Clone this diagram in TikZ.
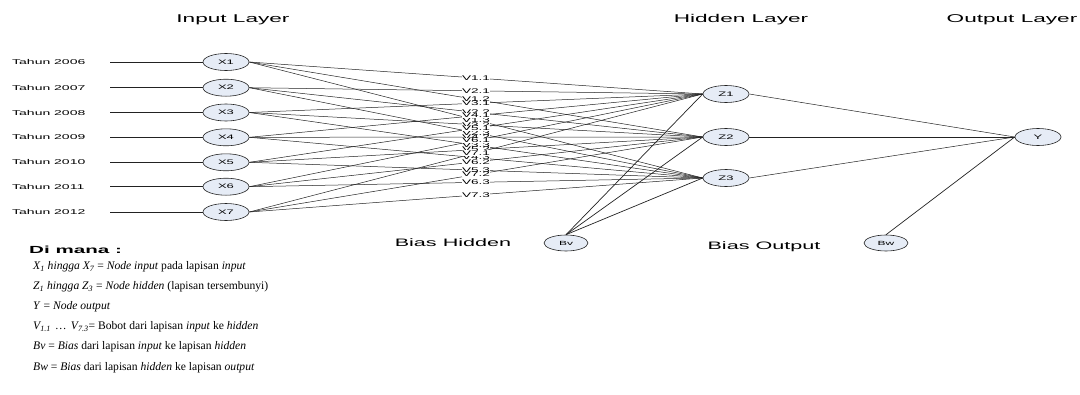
\documentclass[tikz,border=0pt]{standalone}
\usepackage{fontspec}
\setmainfont{Liberation Sans}
\newfontfamily\widesans[FakeStretch=2]{Liberation Sans}
\newfontfamily\lserif{Liberation Serif}
\usetikzlibrary{shapes.geometric}
\definecolor{nfill}{HTML}{E6ECF6}
\definecolor{lcol}{HTML}{222222}
\begin{document}
\begin{tikzpicture}[x=1pt,y=-1pt,
  neuron/.style={ellipse, draw=lcol, fill=nfill, line width=0.6pt, minimum width=46pt, minimum height=17pt, inner sep=0pt, font=\widesans\fontsize{6.5}{7}\selectfont},
  bnode/.style={neuron, minimum width=44pt, minimum height=16pt, font=\widesans\fontsize{6}{7}\selectfont},
  conn/.style={draw=lcol, line width=0.5pt},
  title/.style={font=\widesans\fontsize{11.3}{13}\selectfont, inner sep=0pt},
  yearlbl/.style={font=\widesans\fontsize{7}{8}\selectfont, inner sep=0pt, anchor=west},
  vlbl/.style={font=\widesans\fontsize{6.8}{7}\selectfont, inner sep=0.2pt, fill=white, midway},
  legend/.style={font=\lserif\fontsize{11.6}{13}\selectfont, inner sep=0pt, anchor=west}]
\useasboundingbox (0,0) rectangle (1080,394);
% titles
\node[title] (tin) at (233,20) {Input Layer};
\node[title] (thid) at (741,20) {Hidden Layer};
\node[title] (tout) at (1012,20) {Output Layer};
% input layer
\foreach \i/\y/\yr in {1/62/2006,2/87.7/2007,3/112.5/2008,4/137.3/2009,5/162.3/2010,6/186.7/2011,7/212/2012} {
  \node[neuron] (x\i) at (226,\y) {X\i};
  \node[yearlbl] (lab\i) at (12,\y) {Tahun \yr};
  \coordinate (c\i) at (110,\y);
  \draw[conn] (c\i) -- (x\i);
}
% hidden layer
\node[neuron] (z1) at (726,94) {Z1};
\node[neuron] (z2) at (726,137) {Z2};
\node[neuron] (z3) at (726,178) {Z3};
% output
\node[neuron] (y) at (1038,137) {Y};
% biases
\node[bnode] (bv) at (566,243) {Bv};
\node[bnode] (bw) at (886,243) {Bw};
\node[title, font=\widesans\fontsize{10.8}{13}\selectfont] (bh) at (453,243) {Bias Hidden};
\node[title, font=\widesans\fontsize{10.8}{13}\selectfont] (bo) at (764,247) {Bias Output};
% input to hidden
\foreach \i in {1,...,7} {
  \foreach \j in {1,2,3} {
    \draw[conn] (x\i.east) -- node[vlbl] {V\i.\j} (z\j.west);
  }
}
% bias hidden
\foreach \j in {1,2,3} {
  \draw[conn, line width=0.7pt] (bv.north) -- (z\j.west);
}
% hidden to output
\foreach \j in {1,2,3} {
  \draw[conn] (z\j.east) -- (y.west);
}
\draw[conn, line width=0.7pt] (bw.north) -- (y.west);
% legend
\node[font=\widesans\bfseries\fontsize{10.3}{12}\selectfont, inner sep=0pt, anchor=west] (dm) at (29,250) {Di mana :};
\node[legend] (l1) at (33,267) {\textit{X\textsubscript{1} hingga X\textsubscript{7}} = \textit{Node input} pada lapisan \textit{input}};
\node[legend] (l2) at (33,287) {\textit{Z\textsubscript{1} hingga Z\textsubscript{3}} = \textit{Node hidden} (lapisan tersembunyi)};
\node[legend] (l3) at (33,307) {\textit{Y} = \textit{Node output}};
\node[legend] (l4) at (33,327) {\textit{V\textsubscript{1.1} \,… \,V\textsubscript{7.3}}= Bobot dari lapisan \textit{input} ke \textit{hidden}};
\node[legend] (l5) at (33,347) {\textit{Bv} = \textit{Bias} dari lapisan \textit{input} ke lapisan \textit{hidden}};
\node[legend] (l6) at (33,368) {\textit{Bw} = \textit{Bias} dari lapisan \textit{hidden} ke lapisan \textit{output}};
\end{tikzpicture}
\end{document}
